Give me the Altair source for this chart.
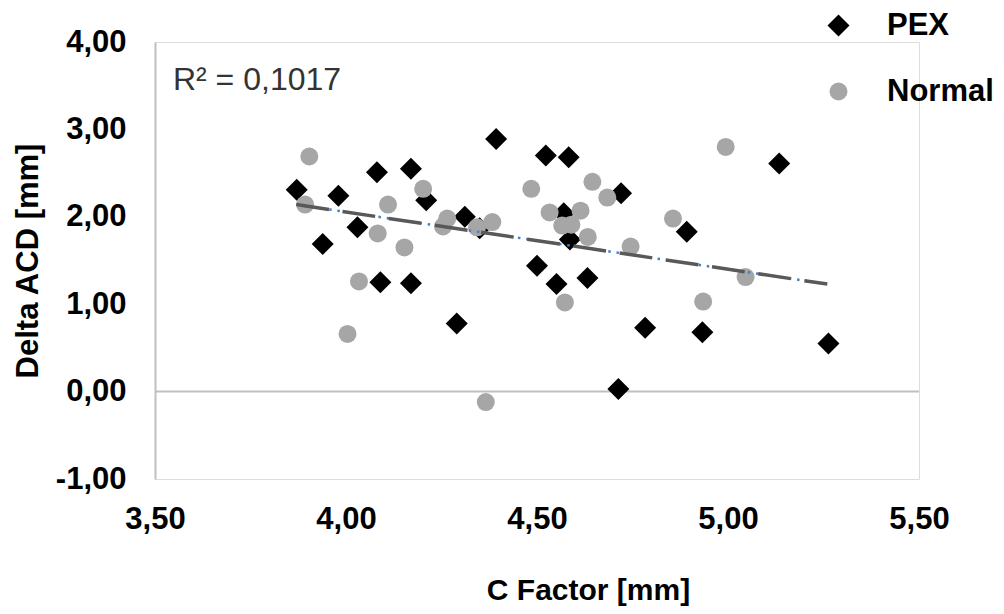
import altair as alt
import pandas as pd

# ---- data ----
groups = ["PEX", "Normal"]

pex_x = [3.871, 3.98, 4.081, 4.170, 4.210, 4.03, 3.939, 4.09, 4.17, 4.393, 4.311, 4.35, 4.29,
         4.523, 4.583, 4.72, 4.57, 4.586, 4.50, 4.551, 4.632, 4.713, 4.783, 4.892, 4.933, 5.134, 5.263]
pex_y = [2.31, 2.24, 2.51, 2.55, 2.19, 1.88, 1.69, 1.25, 1.24, 2.89, 2.00, 1.87, 0.78,
         2.70, 2.68, 2.27, 2.04, 1.74, 1.44, 1.23, 1.30, 0.03, 0.73, 1.83, 0.68, 2.61, 0.55]

normal_x = [3.904, 3.893, 4.202, 4.11, 4.083, 4.153, 4.034, 4.004, 4.265, 4.254, 4.343, 4.383, 4.366,
            4.485, 4.533, 4.566, 4.590, 4.614, 4.633, 4.645, 4.684, 4.573, 4.745, 4.994, 4.856, 4.935, 5.046]
normal_y = [2.69, 2.14, 2.32, 2.14, 1.81, 1.65, 1.26, 0.66, 1.98, 1.89, 1.88, 1.94, -0.12,
            2.32, 2.05, 1.90, 1.91, 2.07, 1.77, 2.40, 2.22, 1.02, 1.66, 2.80, 1.98, 1.03, 1.31]

trend_x = [3.87, 5.26]
trend_y = [2.14, 1.23]

x_ticks = [3.5, 4.0, 4.5, 5.0, 5.5]
y_ticks = [-1, 0, 1, 2, 3, 4]

r2_label = ["R² = 0,1017"]
r2_x = [3.547]
r2_y = [3.56]

# ---- tables ----
pts = pd.DataFrame({
    "x": pex_x + normal_x,
    "y": pex_y + normal_y,
    "group": ["PEX"] * len(pex_x) + ["Normal"] * len(normal_x),
})
trend = pd.DataFrame({"x": trend_x, "y": trend_y})
zero = pd.DataFrame({"y": [0]})
note = pd.DataFrame({"x": r2_x, "y": r2_y, "t": r2_label})

FONT = "Liberation Sans"
comma = "replace(replace(format(datum.value, '.2f'), '.', ','), '\u2212', '-')"

xs = alt.Scale(domain=[3.5, 5.5], nice=False, zero=False)
ys = alt.Scale(domain=[-1, 4], nice=False, zero=False)

x_axis = alt.Axis(
    values=x_ticks, labelExpr=comma, title="C Factor [mm]",
    domain=False, ticks=False, grid=False, labelFlush=False, labelOverlap=False,
    labelFont=FONT, labelFontSize=31, labelFontWeight="bold", labelColor="#000000",
    labelPadding=40, labelBaseline="middle",
    titleFont=FONT, titleFontSize=30, titleFontWeight="bold", titleColor="#000000",
    titleX=433, titleY=111, titleBaseline="middle", titleAlign="center",
)
y_axis = alt.Axis(
    values=y_ticks, labelExpr=comma, title="Delta ACD [mm]",
    domain=True, domainColor="#bfbfbf", domainWidth=2, ticks=False, grid=False,
    labelFlush=False, labelOverlap=False,
    labelFont=FONT, labelFontSize=31, labelFontWeight="bold", labelColor="#000000",
    labelPadding=29,
    titleFont=FONT, titleFontSize=31, titleFontWeight="bold", titleColor="#000000",
    titleX=-127, titleY=218.5, titleAngle=-90, titleBaseline="middle", titleAlign="center",
)

X = alt.X("x:Q", scale=xs, axis=x_axis)
Y = alt.Y("y:Q", scale=ys, axis=y_axis)

leg = alt.Legend(
    title=None, orient="none", legendX=668, legendY=-32, direction="vertical",
    labelFont=FONT, labelFontSize=31, labelFontWeight="bold", labelColor="#000000",
    symbolSize=300, symbolStrokeWidth=0, labelOffset=33, rowPadding=34, padding=0,
)

zero_line = alt.Chart(zero).mark_rule(color="#bfbfbf", strokeWidth=2).encode(y=Y)

points = alt.Chart(pts).mark_point(filled=True, opacity=1, strokeWidth=0).encode(
    x=X, y=Y,
    color=alt.Color("group:N", scale=alt.Scale(domain=groups, range=["#000000", "#a6a6a6"]), legend=leg),
    shape=alt.Shape("group:N", scale=alt.Scale(domain=groups, range=["diamond", "circle"]), legend=leg),
    size=alt.Size("group:N", scale=alt.Scale(domain=groups, range=[484, 324]), legend=None),
)

blue_dots = alt.Chart(trend).mark_line(color="#4a7fc8", strokeWidth=2.5, strokeDash=[2.5, 5.8]).encode(x=X, y=Y)
gray_dash = alt.Chart(trend).mark_line(color="#595959", strokeWidth=3.5, strokeDash=[33, 13.7]).encode(x=X, y=Y)

label = alt.Chart(note).mark_text(
    align="left", baseline="middle", font=FONT, fontSize=32, color="#333333"
).encode(x=X, y=Y, text="t:N")

chart = alt.layer(zero_line, points, blue_dots, gray_dash, label).properties(
    width=764, height=437,
    padding={"left": 147, "top": 34, "right": 77, "bottom": 127},
    autosize=alt.AutoSizeParams(type="none"),
).configure_view(strokeWidth=0).configure(background="white")

chart.save("out.html", embed_options={"renderer": "svg", "actions": False})
